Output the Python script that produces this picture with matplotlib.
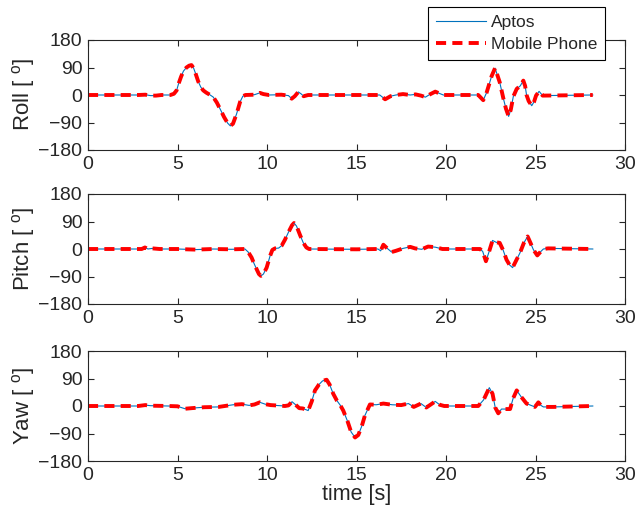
import matplotlib
matplotlib.use("Agg")
import matplotlib.pyplot as plt
from matplotlib.lines import Line2D

plt.rcParams['font.family'] = ['Liberation Sans', 'DejaVu Sans']
plt.rcParams['mathtext.fontset'] = 'custom'
plt.rcParams['mathtext.rm'] = 'Liberation Sans'

# ---------------- data ----------------
roll_t = [0, 2.8, 3.2, 3.5, 3.8, 4.1, 4.6, 4.8, 4.95, 5.05, 5.2, 5.33, 5.5, 5.65, 5.78, 5.9, 6.0,
          6.16, 6.3, 6.44, 6.6, 6.8, 7.0, 7.2, 7.4, 7.6, 7.8, 7.95, 8.1, 8.3, 8.5, 8.65, 8.8,
          9.3, 9.6, 9.8, 10.1, 10.8, 11.2, 11.38, 11.55, 11.75, 11.9, 12.05, 12.3, 16.3, 16.6,
          16.9, 17.2, 17.6, 18.0, 18.3, 18.6, 18.85, 19.1, 19.4, 19.6, 19.85, 21.8, 22.08,
          22.27, 22.55, 22.74, 23.0, 23.2, 23.35, 23.5, 23.62, 23.76, 23.95, 24.15, 24.32,
          24.42, 24.5, 24.62, 24.79, 24.92, 25.03, 25.2, 25.4, 28.2]
roll_v = [0, 0, 1, -2, -2, 0, 0, 4, 15, 35, 60, 78, 90, 96, 98, 88, 72,
          44, 26, 15, 8, 1, -7, -25, -48, -72, -92, -101, -94, -62, -22, -4, 0,
          1, 7, 3, 0, 1, -2, -12, -4, 10, 4, -4, 0, 0, -14,
          -4, 0, 3, 0, 2, -2, -7, 2, 11, 6, 0, 0, -17,
          8, 62, 88, 42, -10, -45, -70, -48, -5, 20, 30, 47,
          30, 0, -20, -35, -22, -2, 12, -2, 0]

pitch_t = [0, 3.0, 3.18, 3.35, 3.6, 4.0, 5.0, 6.0, 7.0, 8.0, 8.77, 8.95, 9.14, 9.28, 9.42, 9.55,
           9.66, 9.8, 9.98, 10.17, 10.3, 10.45, 10.65, 10.82, 11.0, 11.2, 11.4, 11.51, 11.65,
           11.85, 12.03, 12.2, 12.35, 15.0, 16.2, 16.35, 16.5, 16.7, 16.96, 17.2, 17.6, 18.0,
           18.27, 18.64, 19.0, 19.4, 19.8, 21.9, 22.05, 22.23, 22.4, 22.6, 22.8, 23.0, 23.2,
           23.38, 23.55, 23.72, 23.9, 24.13, 24.35, 24.56, 24.72, 24.88, 25.1, 25.3, 25.44,
           25.7, 28.2]
pitch_v = [0, 0, 5, 0, 2, 0, 0, -2, 0, -1, 0, -10, -28, -48, -66, -82,
           -88, -82, -61, -23, -3, 2, 3, 11, 30, 55, 78, 85, 75,
           45, 20, 5, 0, -1, 0, -6, 14, 3, -10, -6, 2, 7,
           2, -1, 8, 6, 0, 0, -8, -40, -10, 28, 22, 20, -5,
           -35, -52, -61, -40, -13, 20, 41, 20, -2, -21, -8, 0,
           2, 0]

yaw_t = [0, 2.8, 3.2, 3.5, 4.5, 5.0, 5.42, 5.8, 6.5, 7.3, 8.1, 8.6, 9.0, 9.3, 9.6, 9.9, 10.2,
         11.0, 11.2, 11.4, 11.6, 11.8, 12.0, 12.3, 12.5, 12.68, 12.9, 13.1, 13.33, 13.5, 13.7,
         13.9, 14.1, 14.26, 14.5, 14.7, 14.92, 15.1, 15.3, 15.47, 15.75, 16.1, 16.5, 17.0,
         17.5, 17.9, 18.2, 18.6, 18.9, 19.15, 19.4, 19.65, 19.9, 21.8, 22.1, 22.42, 22.6,
         22.75, 22.92, 23.1, 23.58, 23.75, 23.95, 24.2, 24.5, 24.75, 24.97, 25.16, 25.3,
         25.44, 26.0, 28.2]
yaw_v = [0, 0, 3, 1, 0, -1, -9, -7, -4, -3, 4, 6, 2, 5, 12, 6, 3,
         0, 2, 14, 4, -7, -8, -15, 15, 51, 70, 82, 86, 70, 40,
         18, 2, -15, -50, -85, -103, -95, -65, -31, 5, 4, 8, 4,
         3, 8, -3, 8, -5, 5, 15, 4, 0, 0, 20, 60, 40,
         -5, -24, -10, -10, 25, 51, 30, 8, 2, -3, 12, 2,
         -3, -3, 0]

# mobile phone series follow the Aptos readings closely
phone_roll_t, phone_roll_v = roll_t, roll_v
phone_pitch_t, phone_pitch_v = pitch_t, pitch_v
phone_yaw_t, phone_yaw_v = yaw_t, yaw_v

panel_labels = ['Roll [ $^{\\rm o}$]', 'Pitch [ $^{\\rm o}$]', 'Yaw [ $^{\\rm o}$]']
x_ticks = [0, 5, 10, 15, 20, 25, 30]
y_ticks = [-180, -90, 0, 90, 180]
series_names = ['Aptos', 'Mobile Phone']

# ---------------- figure ----------------
fig = plt.figure(figsize=(6.35, 5.21), dpi=100)
W, H = 635, 521
left, right = 88, 625
tops = [40, 194, 351]
ph = 110

blue = '#0072BD'
red = '#FF0000'
gray = '#262626'

series = [(roll_t, roll_v, phone_roll_t, phone_roll_v),
          (pitch_t, pitch_v, phone_pitch_t, phone_pitch_v),
          (yaw_t, yaw_v, phone_yaw_t, phone_yaw_v)]

for i, (top, lab, (at, av, pt, pv)) in enumerate(zip(tops, panel_labels, series)):
    ax = fig.add_axes([left / W, 1 - (top + ph) / H, (right - left) / W, ph / H])
    ax.plot(at, av, color=blue, lw=0.8)
    ax.plot(pt, pv, color=red, lw=2.8, dashes=(2.6, 1.6))
    ax.set_xlim(0, 30)
    ax.set_ylim(-180, 180)
    ax.set_xticks(x_ticks)
    ax.set_yticks(y_ticks)
    ax.tick_params(direction='in', top=True, right=True, length=4.5, width=0.8,
                   colors=gray, labelsize=14, pad=4)
    for s in ax.spines.values():
        s.set_color(gray)
        s.set_linewidth(0.8)
    ax.set_ylabel(lab, fontsize=16, color=gray, labelpad=1)
    if i == 2:
        ax.set_xlabel('time [s]', fontsize=15.5, color=gray, labelpad=0)

handles = [Line2D([], [], color=blue, lw=0.8),
           Line2D([], [], color=red, lw=2.8, dashes=(2.6, 1.6))]
leg = fig.legend(handles, series_names, loc='upper left',
                 bbox_to_anchor=(428 / W, 1 - 7 / H), fontsize=12.5,
                 frameon=True, fancybox=False, edgecolor='black', framealpha=1,
                 handlelength=2.9, handletextpad=0.25, borderpad=0.45,
                 labelspacing=0.4, borderaxespad=0)
leg.get_frame().set_linewidth(0.8)
for t in leg.get_texts():
    t.set_color(gray)

fig.savefig('out.png', dpi=100)
